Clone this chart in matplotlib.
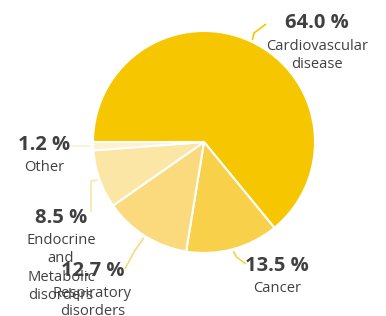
import numpy as np
import matplotlib.pyplot as plt

labels = ["Cardiovascular\ndisease", "Cancer", "Respiratory\ndisorders",
          "Endocrine\nand\nMetabolic\ndisorders", "Other"]
values = [64.0, 13.5, 12.7, 8.5, 1.2]
colors = ["#f6c600", "#f8d04a", "#fada7c", "#fce6a6", "#fdf1cf"]

# label layout (pixel coords, y down): elbow point, end point, text anchor
elbows = [(254, 33), (236.5, 257), (134, 252), (91, 181), (82, 146)]
ends = [(266, 24), (246, 264), (125, 269), (91, 212), (70, 146)]
text_pos = [(317, 23.5), (277, 266), (92.5, 271), (61, 218), (44, 145)]

W, H = 386, 316
cx, cy, r = 204, 142, 111

fig = plt.figure(figsize=(W / 100, H / 100), dpi=100)
ax = fig.add_axes([0, 0, 1, 1])

wedges, _ = ax.pie(values, colors=colors, startangle=180, counterclock=False,
                   center=(cx, H - cy), radius=r,
                   wedgeprops=dict(edgecolor="white", linewidth=1.5))
ax.set_xlim(0, W)
ax.set_ylim(0, H)
ax.axis("off")

txt = "#404040"
fam = ["Open Sans", "DejaVu Sans"]
for w, lab, v, el, en, tp, c in zip(wedges, labels, values, elbows, ends, text_pos, colors):
    mid = np.deg2rad((w.theta1 + w.theta2) / 2)
    x0 = cx + (r + 2) * np.cos(mid)
    y0 = cy - (r + 2) * np.sin(mid)
    ax.plot([x0, el[0], en[0]], [H - y0, H - el[1], H - en[1]], color=c, lw=1.2,
            solid_capstyle="butt")
    ax.text(tp[0], H - tp[1], f"{v:.1f} %", ha="center", va="center",
            fontsize=14.5, fontweight="bold", color=txt, family=fam)
    ax.text(tp[0], H - tp[1] - 15, lab, ha="center", va="top",
            fontsize=10.6, color=txt, family=fam, linespacing=1.3)

fig.savefig("out.png", dpi=100)
